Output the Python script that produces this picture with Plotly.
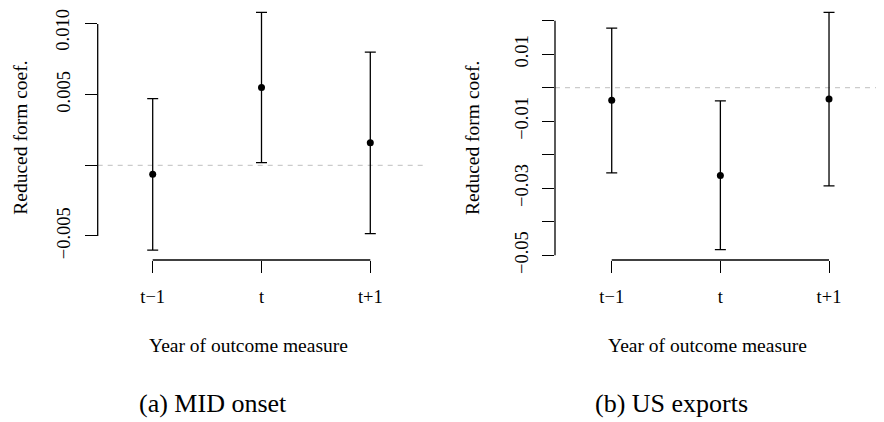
import plotly.graph_objects as go

# ---- data ----
periods = ["t\u22121", "t", "t+1"]
period_pos = [1, 2, 3]

mid_est = [-0.00064, 0.0055, 0.0016]
mid_lo = [-0.0060, 0.00019, -0.00483]
mid_hi = [0.00472, 0.01082, 0.00801]

exp_est = [-0.00375, -0.0262, -0.00336]
exp_lo = [-0.0254, -0.0483, -0.0293]
exp_hi = [0.0178, -0.0039, 0.0225]

mid_yticks = [-0.005, 0.0, 0.005, 0.010]
mid_yticktext = ["\u22120.005", "", "0.005", "0.010"]
exp_yticks = [0.02, 0.01, 0.0, -0.01, -0.02, -0.03, -0.04, -0.05]
exp_yticktext = ["", "0.01", "", "\u22120.01", "", "\u22120.03", "", "\u22120.05"]

ylab = "Reduced form coef."
xlab = "Year of outcome measure"
captions = ["(a) MID onset", "(b) US exports"]

FONT = "Liberation Serif, Times New Roman, serif"
W, H = 884, 422
OFF = 8  # default page body margin in the browser


def px_x(v):
    return (v - OFF) / W


def px_y(v):
    return 1 - (v - OFF) / H


fig = go.Figure()

panels = [
    dict(est=mid_est, lo=mid_lo, hi=mid_hi, xa="x", ya="y"),
    dict(est=exp_est, lo=exp_lo, hi=exp_hi, xa="x2", ya="y2"),
]
for p in panels:
    fig.add_trace(go.Scatter(
        x=period_pos, y=p["est"], mode="markers",
        marker=dict(color="black", size=7),
        error_y=dict(type="data", symmetric=False,
                     array=[h - e for h, e in zip(p["hi"], p["est"])],
                     arrayminus=[e - l for e, l in zip(p["est"], p["lo"])],
                     color="black", thickness=1.3, width=5.5),
        xaxis=p["xa"], yaxis=p["ya"], showlegend=False, cliponaxis=False,
    ))

# the top label of the left panel is drawn separately so it stays inside the page
mid_axis_text = mid_yticktext[:-1] + [""]

ydom = [px_y(260), 1.0]
common_x = dict(tickvals=period_pos, ticktext=periods, ticks="outside", ticklen=12,
                tickwidth=1.3, tickcolor="black", showgrid=False, zeroline=False,
                showline=False, automargin=False, ticklabeloverflow="allow",
                tickfont=dict(family=FONT, size=18.5, color="black"),
                ticklabelstandoff=8)
common_y = dict(ticks="outside", ticklen=12, tickwidth=1.3, tickcolor="black",
                showgrid=False, zeroline=False, showline=False, tickangle=-90,
                automargin=False, ticklabeloverflow="allow",
                tickfont=dict(family=FONT, size=18.5, color="black"),
                ticklabelstandoff=7)

fig.update_layout(
    template="none",
    width=W, height=H, margin=dict(l=0, r=0, t=0, b=0, pad=0),
    paper_bgcolor="white", plot_bgcolor="white",
    xaxis=dict(domain=[px_x(97.7), px_x(426)], range=[0.4945, 3.512], anchor="y", **common_x),
    yaxis=dict(domain=ydom, range=[-0.0067, 0.01113], anchor="x",
               tickvals=mid_yticks, ticktext=mid_axis_text, **common_y),
    xaxis2=dict(domain=[px_x(555), px_x(884)], range=[0.478, 3.506], anchor="y2", **common_x),
    yaxis2=dict(domain=ydom, range=[-0.0514, 0.02378], anchor="x2",
                tickvals=exp_yticks, ticktext=exp_yticktext, **common_y),
)

shapes = []
for xr, yr, yt in [("x", "y", mid_yticks), ("x2", "y2", exp_yticks)]:
    # reference line at zero
    shapes.append(dict(type="line", xref=f"{xr} domain", yref=yr, x0=0, x1=1, y0=0, y1=0,
                       line=dict(color="#BEBEBE", width=1, dash="5px,5px"), layer="below"))
    # R-style axis lines spanning tick range
    shapes.append(dict(type="line", xref=xr, yref=f"{yr} domain", x0=min(period_pos),
                       x1=max(period_pos), y0=0, y1=0, line=dict(color="black", width=1.3)))
    shapes.append(dict(type="line", xref=f"{xr} domain", yref=yr, x0=0, x1=0,
                       y0=min(yt), y1=max(yt), line=dict(color="black", width=1.3)))
fig.update_layout(shapes=shapes)

ann = []
ann.append(dict(text=mid_yticktext[-1], x=0, xref="x domain", y=mid_yticks[-1], yref="y",
                xshift=-35, yshift=-6, showarrow=False, xanchor="center", yanchor="middle",
                textangle=-90, font=dict(family=FONT, size=18.5, color="black")))
for cx_lab in [248.8, 707.8]:
    ann.append(dict(text=xlab, x=px_x(cx_lab), y=px_y(345), xref="paper", yref="paper",
                    showarrow=False, xanchor="center", yanchor="middle",
                    font=dict(family=FONT, size=19.5, color="black")))
for cap, cx in zip(captions, [212.7, 671.7]):
    ann.append(dict(text=cap, x=px_x(cx), y=px_y(403), xref="paper", yref="paper",
                    showarrow=False, xanchor="center", yanchor="middle",
                    font=dict(family=FONT, size=26, color="black")))
for cx in [20.7, 473]:
    ann.append(dict(text=ylab, x=px_x(cx), y=px_y(138), xref="paper", yref="paper",
                    showarrow=False, xanchor="center", yanchor="middle", textangle=-90,
                    font=dict(family=FONT, size=19.5, color="black")))
fig.update_layout(annotations=ann)

fig.write_html("out.html")
